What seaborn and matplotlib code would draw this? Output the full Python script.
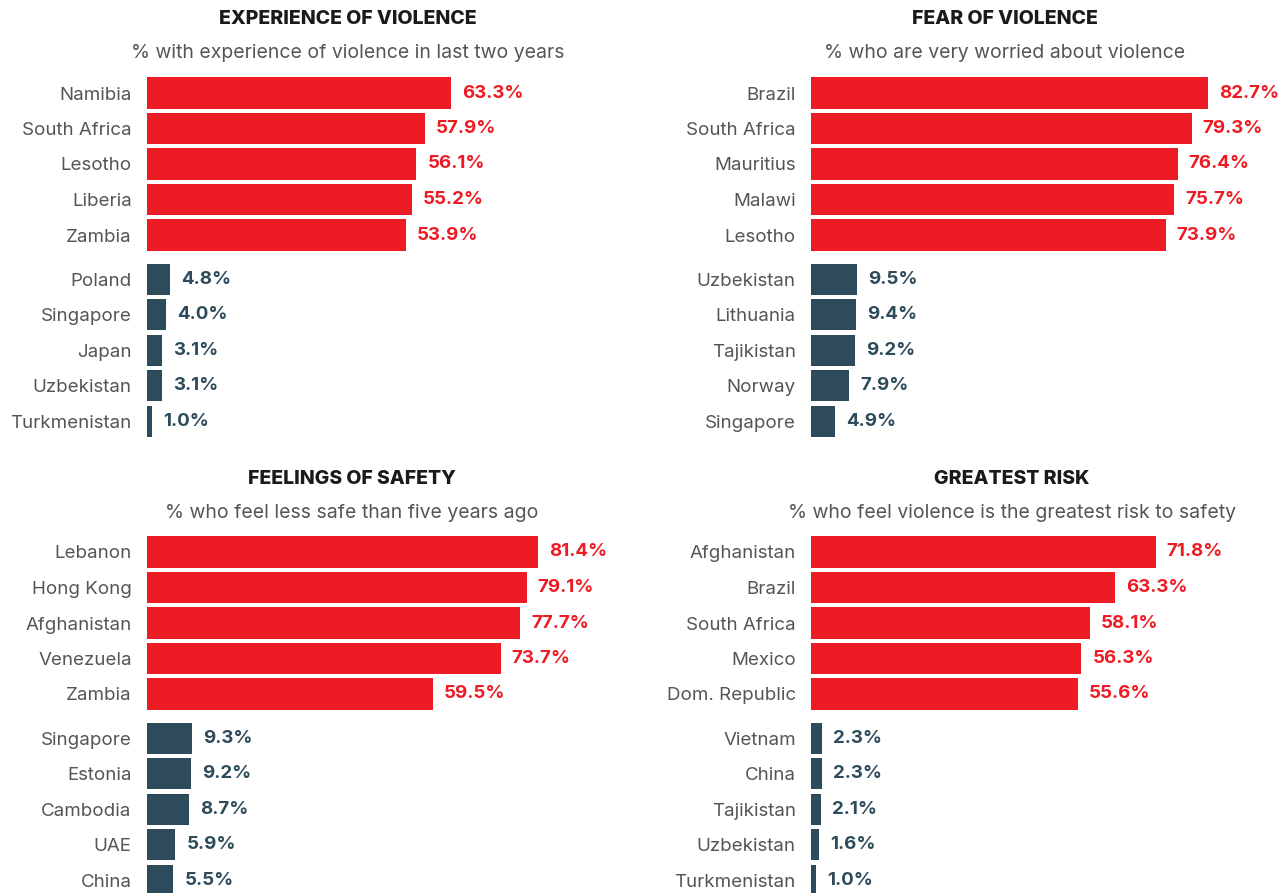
import matplotlib
matplotlib.use('Agg')
import matplotlib.pyplot as plt
import seaborn as sns
import pandas as pd

# data
titles = ['EXPERIENCE OF VIOLENCE', 'FEAR OF VIOLENCE', 'FEELINGS OF SAFETY', 'GREATEST RISK']
subtitles = ['% with experience of violence in last two years',
             '% who are very worried about violence',
             '% who feel less safe than five years ago',
             '% who feel violence is the greatest risk to safety']
exp_countries = ['Namibia', 'South Africa', 'Lesotho', 'Liberia', 'Zambia',
                 'Poland', 'Singapore', 'Japan', 'Uzbekistan', 'Turkmenistan']
exp_values = [63.3, 57.9, 56.1, 55.2, 53.9, 4.8, 4.0, 3.1, 3.1, 1.0]
fear_countries = ['Brazil', 'South Africa', 'Mauritius', 'Malawi', 'Lesotho',
                  'Uzbekistan', 'Lithuania', 'Tajikistan', 'Norway', 'Singapore']
fear_values = [82.7, 79.3, 76.4, 75.7, 73.9, 9.5, 9.4, 9.2, 7.9, 4.9]
safe_countries = ['Lebanon', 'Hong Kong', 'Afghanistan', 'Venezuela', 'Zambia',
                  'Singapore', 'Estonia', 'Cambodia', 'UAE', 'China']
safe_values = [81.4, 79.1, 77.7, 73.7, 59.5, 9.3, 9.2, 8.7, 5.9, 5.5]
risk_countries = ['Afghanistan', 'Brazil', 'South Africa', 'Mexico', 'Dom. Republic',
                  'Vietnam', 'China', 'Tajikistan', 'Uzbekistan', 'Turkmenistan']
risk_values = [71.8, 63.3, 58.1, 56.3, 55.6, 2.3, 2.3, 2.1, 1.6, 1.0]
groups = ['highest'] * 5 + ['lowest'] * 5

RED = '#ED1C24'
DARK = '#2D4B5A'
palette = {'highest': RED, 'lowest': DARK}
positions = [0, 1, 2, 3, 4, 5.25, 6.25, 7.25, 8.25, 9.25]

W, H = 1285, 893
fig = plt.figure(figsize=(W / 100, H / 100), dpi=100)
sns.set_style('white')
plt.rcParams['font.family'] = ['Inter', 'DejaVu Sans']

unit = 35.5                       # pixels per bar step
ax_h = 10.25 * unit
panels = [
    (exp_countries, exp_values, 147, 75.25, 348),
    (fear_countries, fear_values, 811, 75.25, 1005),
    (safe_countries, safe_values, 147, 534.25, 352),
    (risk_countries, risk_values, 811, 534.25, 1012),
]

for i, (countries, values, x0, y0, xc) in enumerate(panels):
    ax = fig.add_axes([x0 / W, 1 - (y0 + ax_h) / H, 432 / W, ax_h / H])
    df = pd.DataFrame({'country': countries, 'value': values,
                       'pos': positions, 'group': groups})
    sns.barplot(data=df, x='value', y='pos', hue='group', palette=palette,
                orient='h', native_scale=True, width=0.88, dodge=False,
                legend=False, saturation=1, linewidth=0, ax=ax)
    ax.set_xlim(0, 90)
    ax.set_ylim(9.75, -0.5)
    ax.set_yticks(positions)
    ax.set_yticklabels(countries, fontsize=13.5, color='#555555')
    ax.tick_params(axis='y', length=0, pad=11)
    ax.set_xticks([])
    ax.set_xlabel('')
    ax.set_ylabel('')
    for s in ax.spines.values():
        s.set_visible(False)
    for v, p, g in zip(values, positions, groups):
        ax.annotate(f'{v:.1f}%', (v, p), xytext=(8, 0), textcoords='offset points',
                    va='center', ha='left', fontsize=13.5, fontweight='bold',
                    color=palette[g], annotation_clip=False)
    ty = 19 if i < 2 else 479
    fig.text(xc / W, 1 - ty / H, titles[i], ha='center', va='center',
             fontsize=14, fontweight='heavy', color='#1a1a1a')
    fig.text(xc / W, 1 - (ty + 34) / H, subtitles[i], ha='center', va='center',
             fontsize=14, color='#555555')

fig.savefig('out.png', dpi=100)
